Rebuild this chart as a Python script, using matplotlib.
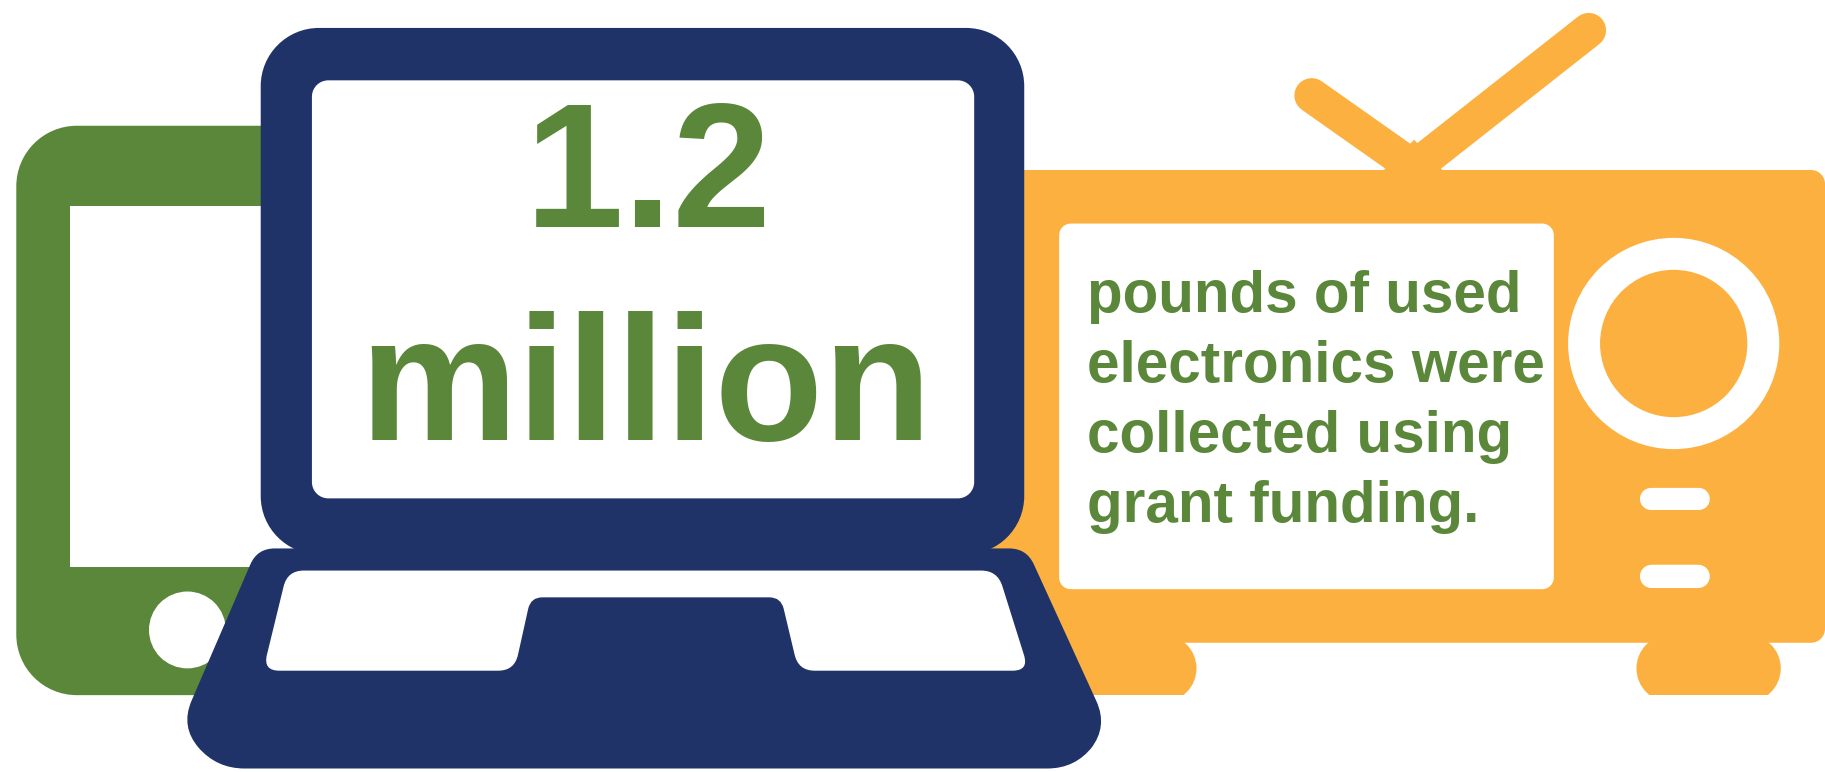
import matplotlib
matplotlib.use("Agg")
import matplotlib.pyplot as plt
from matplotlib.patches import Circle, Polygon, PathPatch, Rectangle
from matplotlib.path import Path

headline_value = "1.2"
headline_unit = "million"
caption_lines = ["pounds of used", "electronics were", "collected using", "grant funding."]
GREEN = "#5B873A"
NAVY = "#1F3368"
ORANGE = "#FBB040"
WHITE = "#FFFFFF"

plt.rcParams["font.family"] = ["Liberation Sans", "DejaVu Sans"]
plt.rcParams["text.hinting"] = "default"
plt.rcParams["text.hinting_factor"] = 8
fig = plt.figure(figsize=(18.25, 7.72), dpi=100, facecolor="white")
ax = fig.add_axes([0, 0, 1, 1])
ax.set_xlim(0, 1568)
ax.set_ylim(663, 0)
ax.axis("off")

K = 0.5523


def rbox(x0, y0, x1, y1, r, color, z):
    c = r * (1 - K)
    verts = [(x0 + r, y0), (x1 - r, y0), (x1 - c, y0), (x1, y0 + c), (x1, y0 + r),
             (x1, y1 - r), (x1, y1 - c), (x1 - c, y1), (x1 - r, y1),
             (x0 + r, y1), (x0 + c, y1), (x0, y1 - c), (x0, y1 - r),
             (x0, y0 + r), (x0, y0 + c), (x0 + c, y0), (x0 + r, y0), (x0 + r, y0)]
    codes = [Path.MOVETO, Path.LINETO, Path.CURVE4, Path.CURVE4, Path.CURVE4,
             Path.LINETO, Path.CURVE4, Path.CURVE4, Path.CURVE4,
             Path.LINETO, Path.CURVE4, Path.CURVE4, Path.CURVE4,
             Path.LINETO, Path.CURVE4, Path.CURVE4, Path.CURVE4, Path.CLOSEPOLY]
    patch = PathPatch(Path(verts, codes), fc=color, ec="none", zorder=z)
    ax.add_patch(patch)
    return patch


def rpoly(points, color, z):
    """points: (x, y, corner radius) rounded polygon"""
    n = len(points)
    verts, codes = [], []
    for i in range(n):
        px, py, r = points[i]
        ax_, ay_, _ = points[i - 1]
        bx_, by_, _ = points[(i + 1) % n]
        da = ((ax_ - px) ** 2 + (ay_ - py) ** 2) ** .5
        db = ((bx_ - px) ** 2 + (by_ - py) ** 2) ** .5
        s = (px + (ax_ - px) * r / da, py + (ay_ - py) * r / da)
        e = (px + (bx_ - px) * r / db, py + (by_ - py) * r / db)
        verts += [s, (px, py), e]
        codes += [Path.MOVETO if i == 0 else Path.LINETO, Path.CURVE3, Path.CURVE3]
    verts.append(verts[0])
    codes.append(Path.CLOSEPOLY)
    ax.add_patch(PathPatch(Path(verts, codes), fc=color, ec="none", zorder=z))


# phone
rbox(14, 108, 300, 597, 52, GREEN, 1)
ax.add_patch(Polygon([(60, 177), (300, 177), (300, 487), (60, 487)], fc=WHITE, ec="none", zorder=2))
ax.add_patch(Circle((161, 541), 33, fc=WHITE, ec="none", zorder=2))

# television
for a, b in [((1127, 82), (1215, 144)), ((1365, 26), (1215, 144))]:
    ax.plot([a[0], b[0]], [a[1], b[1]], color=ORANGE, lw=25, solid_capstyle="round", zorder=1)
ax.add_patch(Polygon([(1185, 150), (1215, 120), (1243, 150)], fc=ORANGE, ec="none", zorder=1))
rbox(800, 146, 1568, 552, 12, ORANGE, 1)
rbox(910, 192, 1335, 506, 10, WHITE, 2)
foot_clip = Rectangle((0, 0), 1568, 597, transform=ax.transData)
for x0, x1 in [(880, 1028), (1406, 1530)]:
    foot = rbox(x0, 545, x1, 603, 29, ORANGE, 1)
    foot.set_clip_path(foot_clip)
ax.add_patch(Circle((1438, 295), 77, fc="none", ec=WHITE, lw=23, zorder=2))
rbox(1409, 419, 1469, 438, 9.5, WHITE, 2)
rbox(1409, 485, 1469, 505, 10, WHITE, 2)

# laptop
rpoly([(221, 471, 15), (882, 471, 15), (952, 624, 24), (924, 660, 24),
       (186, 660, 24), (155, 624, 24)], NAVY, 3)
rbox(224, 24, 880, 476, 50, NAVY, 3)
rbox(268, 69, 837, 428, 14, WHITE, 4)
rpoly([(247, 490, 14), (857, 490, 14), (884, 576, 14), (686, 576, 14), (671, 513, 10),
       (456, 513, 10), (442, 576, 14), (226, 576, 14)], WHITE, 4)

# text
ax.text(557, 195, headline_value, color=GREEN, fontsize=128, fontweight="bold",
        ha="center", va="baseline", zorder=5)
ax.text(555, 378, headline_unit, color=GREEN, fontsize=128, fontweight="bold",
        ha="center", va="baseline", zorder=5)
for line, y in zip(caption_lines, [268, 328, 388, 448]):
    ax.text(934, y, line, color=GREEN, fontsize=42, fontweight="bold",
            ha="left", va="baseline", zorder=5)

fig.savefig("out.png", dpi=100, facecolor="white")
